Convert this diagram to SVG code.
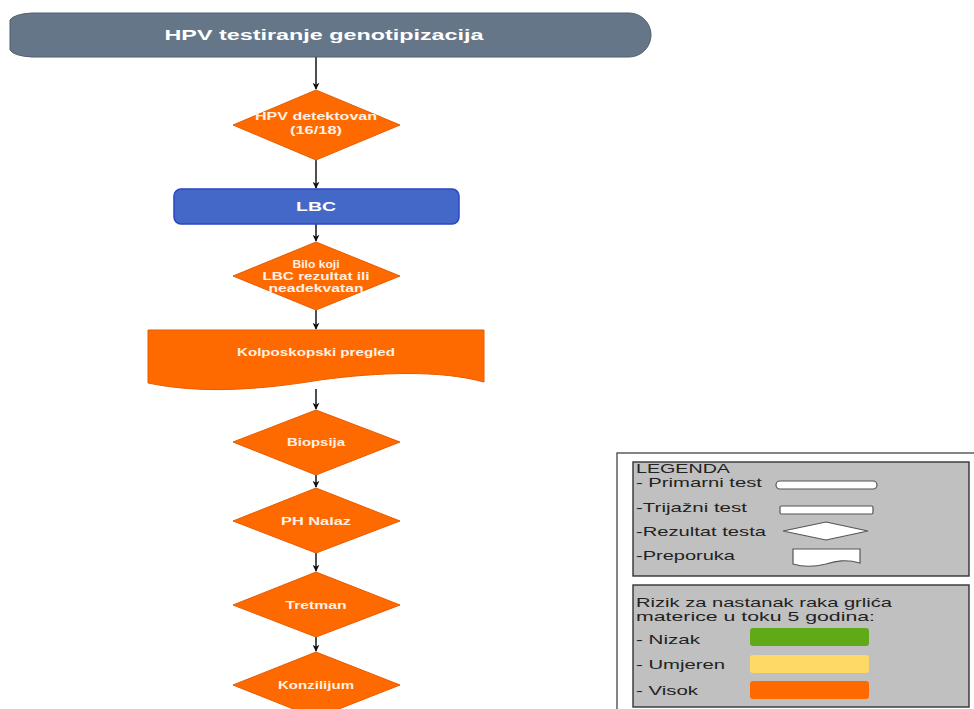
<svg xmlns="http://www.w3.org/2000/svg" width="974" height="709" viewBox="0 0 974 709">
  <defs>
    <marker id="arrow" viewBox="0 0 10 10" refX="9" refY="5" markerWidth="7" markerHeight="7" markerUnits="userSpaceOnUse" orient="auto">
      <path d="M0,0 L10,5 L0,10 L3,5 Z" fill="#111"/>
    </marker>
    <style>
      .edge { stroke: #222; stroke-width: 1.6; fill: none; marker-end: url(#arrow); }
      .orange { fill: #FF6A00; stroke: #E65C00; stroke-width: 1; }
      .ntext { font-family: "Liberation Sans", Arial, sans-serif; font-size: 11px; font-weight: bold; fill: #FFF1E6; text-anchor: middle; }
      .ltext { font-family: "Liberation Sans", Arial, sans-serif; font-size: 13px; fill: #222; }
      .panel { fill: #C0C0C0; stroke: #333; stroke-width: 1.4; }
      .lshape { fill: #FFFFFF; stroke: #555; stroke-width: 1.2; }
    </style>
  </defs>

  <rect width="974" height="709" fill="#FFFFFF"/>

  <!-- connectors -->
  <g id="connectors">
    <line class="edge" x1="316" y1="57" x2="316" y2="89"/>
    <line class="edge" x1="316" y1="160" x2="316" y2="188"/>
    <line class="edge" x1="316" y1="224" x2="316" y2="241"/>
    <line class="edge" x1="316" y1="310" x2="316" y2="329"/>
    <line class="edge" x1="316" y1="389" x2="316" y2="409"/>
    <line class="edge" x1="316" y1="475" x2="316" y2="487"/>
    <line class="edge" x1="316" y1="553" x2="316" y2="571"/>
    <line class="edge" x1="316" y1="637" x2="316" y2="651"/>
  </g>

  <!-- start terminator -->
  <g id="start">
    <path d="M32,13 H629 A22,22 0 0 1 629,57 H32 Q14,56 10,50 V20 Q14,14 32,13 Z" fill="#647687" stroke="#4F5E6E" stroke-width="1"/>
    <text x="324" y="40" font-family="Liberation Sans, Arial, sans-serif" font-size="14" font-weight="bold" fill="#FFFFFF" text-anchor="middle" textLength="319" lengthAdjust="spacingAndGlyphs">HPV testiranje genotipizacija</text>
  </g>

  <g id="hpv-detected">
    <polygon class="orange" points="316,90 400,125 316,160 233,125"/>
    <text class="ntext" x="316" y="120" textLength="122" lengthAdjust="spacingAndGlyphs">HPV detektovan</text>
    <text class="ntext" x="316" y="134" textLength="52" lengthAdjust="spacingAndGlyphs">(16/18)</text>
  </g>

  <g id="lbc">
    <rect x="174" y="189" width="285" height="35" rx="7" fill="#4468C8" stroke="#2A44C4" stroke-width="1.5"/>
    <text x="316" y="211" font-family="Liberation Sans, Arial, sans-serif" font-size="13" font-weight="bold" fill="#FFFFFF" text-anchor="middle" textLength="40" lengthAdjust="spacingAndGlyphs">LBC</text>
  </g>

  <g id="lbc-result">
    <polygon class="orange" points="316,242 400,276 316,310 233,276"/>
    <text class="ntext" x="316" y="268" textLength="47" lengthAdjust="spacingAndGlyphs">Bilo koji</text>
    <text class="ntext" x="316" y="280" textLength="107" lengthAdjust="spacingAndGlyphs">LBC rezultat ili</text>
    <text class="ntext" x="316" y="292" textLength="95" lengthAdjust="spacingAndGlyphs">neadekvatan</text>
  </g>

  <g id="colposcopy">
    <path class="orange" d="M148,330 H484 V382 C440,370 380,372 320,380 C260,390 200,394 148,383 Z"/>
    <text class="ntext" x="316" y="356" textLength="158" lengthAdjust="spacingAndGlyphs">Kolposkopski pregled</text>
  </g>

  <g id="biopsy">
    <polygon class="orange" points="316,410 400,442 316,475 233,442"/>
    <text class="ntext" x="316" y="446" textLength="58" lengthAdjust="spacingAndGlyphs">Biopsija</text>
  </g>

  <g id="ph-finding">
    <polygon class="orange" points="316,488 400,521 316,553 233,521"/>
    <text class="ntext" x="316" y="525" textLength="70" lengthAdjust="spacingAndGlyphs">PH Nalaz</text>
  </g>

  <g id="treatment">
    <polygon class="orange" points="316,572 400,605 316,637 233,605"/>
    <text class="ntext" x="316" y="609" textLength="61" lengthAdjust="spacingAndGlyphs">Tretman</text>
  </g>

  <g id="council">
    <polygon class="orange" points="316,652 400,685 316,718 233,685"/>
    <text class="ntext" x="316" y="689" textLength="76" lengthAdjust="spacingAndGlyphs">Konzilijum</text>
  </g>

  <!-- legend -->
  <g id="legend">
    <rect x="617" y="453" width="370" height="270" fill="#FFFFFF" stroke="#444" stroke-width="1.3"/>
    <rect class="panel" x="633" y="462" width="336" height="114"/>
    <text class="ltext" x="636" y="473" textLength="94" lengthAdjust="spacingAndGlyphs">LEGENDA</text>
    <text class="ltext" x="636" y="487" textLength="126" lengthAdjust="spacingAndGlyphs">- Primarni test</text>
    <rect class="lshape" x="776" y="481" width="101" height="8" rx="4"/>
    <text class="ltext" x="636" y="512" textLength="111" lengthAdjust="spacingAndGlyphs">-Trijažni test</text>
    <rect class="lshape" x="780" y="506" width="93" height="8" rx="1.5"/>
    <text class="ltext" x="636" y="536" textLength="130" lengthAdjust="spacingAndGlyphs">-Rezultat testa</text>
    <polygon class="lshape" points="826,522 868,531 826,540 783,531"/>
    <text class="ltext" x="636" y="560" textLength="99" lengthAdjust="spacingAndGlyphs">-Preporuka</text>
    <path class="lshape" d="M793,549 H860 V563 C846,559 836,561 826,564 C814,567 803,567 793,564 Z"/>

    <rect class="panel" x="633" y="585" width="336" height="122"/>
    <text class="ltext" x="636" y="607" textLength="256" lengthAdjust="spacingAndGlyphs">Rizik za nastanak raka grlića</text>
    <text class="ltext" x="636" y="621" textLength="239" lengthAdjust="spacingAndGlyphs">materice u toku 5 godina:</text>
    <text class="ltext" x="636" y="644" textLength="64" lengthAdjust="spacingAndGlyphs">- Nizak</text>
    <rect x="750" y="628" width="119" height="18" rx="3" fill="#60A917"/>
    <text class="ltext" x="636" y="669" textLength="89" lengthAdjust="spacingAndGlyphs">- Umjeren</text>
    <rect x="750" y="655" width="119" height="18" rx="3" fill="#FFD966"/>
    <text class="ltext" x="636" y="695" textLength="62" lengthAdjust="spacingAndGlyphs">- Visok</text>
    <rect x="750" y="681" width="119" height="18" rx="3" fill="#FF6A00"/>
  </g>
</svg>
